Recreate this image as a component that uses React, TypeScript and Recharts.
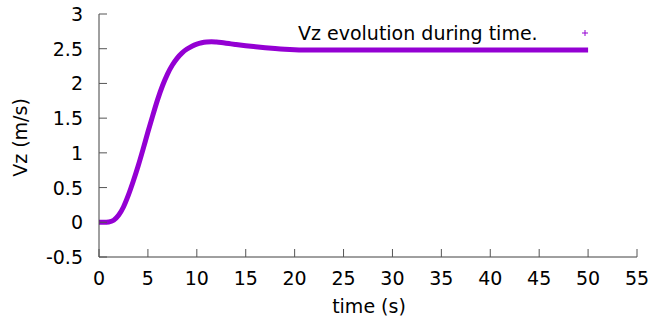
import React from 'react';
import { LineChart, Line, XAxis, YAxis } from 'recharts';

const times = [0, 0.5, 1, 1.5, 2, 2.5, 3, 3.5, 4, 4.5, 5, 5.5, 6, 6.5, 7, 7.5, 8, 8.5, 9, 9.5, 10, 10.5, 11, 11.5, 12, 12.5, 13, 13.5, 14, 15, 16, 17, 18, 19, 20, 21, 22, 24, 26, 28, 30, 32, 34, 36, 38, 40, 42, 44, 46, 48, 50];
const vz = [0, 0, 0.005, 0.03, 0.1, 0.22, 0.39, 0.59, 0.81, 1.05, 1.3, 1.54, 1.77, 1.97, 2.135, 2.265, 2.365, 2.44, 2.495, 2.537, 2.566, 2.585, 2.596, 2.6, 2.596, 2.589, 2.58, 2.57, 2.561, 2.544, 2.529, 2.515, 2.503, 2.493, 2.486, 2.482, 2.48, 2.48, 2.48, 2.48, 2.48, 2.48, 2.48, 2.48, 2.48, 2.48, 2.48, 2.48, 2.48, 2.48, 2.48];
const xTicks = [0, 5, 10, 15, 20, 25, 30, 35, 40, 45, 50, 55];
const yTicks = [-0.5, 0, 0.5, 1, 1.5, 2, 2.5, 3];
const seriesName = 'Vz evolution during time.';
const xTitle = 'time (s)';
const yTitle = 'Vz (m/s)';

const data = times.map((t, i) => ({ t, v: vz[i] }));

const FONT = 'DejaVu Sans';
const FS = 19;
const TICK = '#555';
const AXIS = '#404040';
const COLOR = '#9400D3';

const BottomTick = (p: any) => (
  <g>
    <line x1={p.x} x2={p.x} y1={p.y} y2={p.y - 8} stroke={TICK} strokeWidth={1} />
    <text x={p.x} y={p.y + 27.5} textAnchor="middle" fontFamily={FONT} fontSize={FS} fill="#000">{String(p.payload.value)}</text>
  </g>
);
const TopTick = (p: any) => (
  <line x1={p.x} x2={p.x} y1={p.y} y2={p.y + 8} stroke={TICK} strokeWidth={1} />
);
const LeftTick = (p: any) => (
  <g>
    <line x1={p.x} x2={p.x + 8} y1={p.y} y2={p.y} stroke={TICK} strokeWidth={1} />
    <text x={p.x - 16} y={p.y + 7} textAnchor="end" fontFamily={FONT} fontSize={FS} fill="#000">{String(p.payload.value)}</text>
  </g>
);
const RightTick = (p: any) => (
  <line x1={p.x} x2={p.x - 8} y1={p.y} y2={p.y} stroke={TICK} strokeWidth={1} />
);

export default function App() {
  return (
    <div style={{ position: 'absolute', left: 0, top: 0, width: 655, height: 325, background: '#fff' }}>
      <LineChart width={655} height={325} data={data} margin={{ top: 14, right: 18, bottom: 0, left: 0 }}>
        <XAxis dataKey="t" type="number" domain={[0, 55]} ticks={xTicks} height={68} tickSize={0} tickMargin={0}
          tick={<BottomTick />} axisLine={{ stroke: AXIS }} tickLine={false} allowDataOverflow />
        <XAxis xAxisId="top" dataKey="t" type="number" orientation="top" domain={[0, 55]} ticks={xTicks} height={0}
          tickSize={0} tickMargin={0} tick={<TopTick />} axisLine={{ stroke: AXIS }} tickLine={false} allowDataOverflow />
        <YAxis type="number" domain={[-0.5, 3]} ticks={yTicks} width={99} tickSize={0} tickMargin={0}
          tick={<LeftTick />} axisLine={{ stroke: AXIS }} tickLine={false} allowDataOverflow />
        <YAxis yAxisId="right" orientation="right" type="number" domain={[-0.5, 3]} ticks={yTicks} width={0}
          tickSize={0} tickMargin={0} tick={<RightTick />} axisLine={{ stroke: AXIS }} tickLine={false} allowDataOverflow />
        <Line dataKey="v" name={seriesName} type="monotone" stroke={COLOR} strokeWidth={5} dot={false}
          isAnimationActive={false} strokeLinecap="butt" strokeLinejoin="round" />
      </LineChart>
      <svg width={655} height={325} style={{ position: 'absolute', left: 0, top: 0, pointerEvents: 'none' }}>
        <text x={298} y={39.5} fontFamily={FONT} fontSize={FS} fill="#000">{seriesName}</text>
        <g stroke={COLOR} strokeWidth={1}>
          <line x1={582} x2={588} y1={33} y2={33} />
          <line x1={585} x2={585} y1={30} y2={36} />
        </g>
        <text x={369} y={313} textAnchor="middle" fontFamily={FONT} fontSize={FS} fill="#000">{xTitle}</text>
        <text x={27} y={137.5} textAnchor="middle" fontFamily={FONT} fontSize={FS} fill="#000"
          transform="rotate(-90 27 137.5)">{yTitle}</text>
      </svg>
    </div>
  );
}
